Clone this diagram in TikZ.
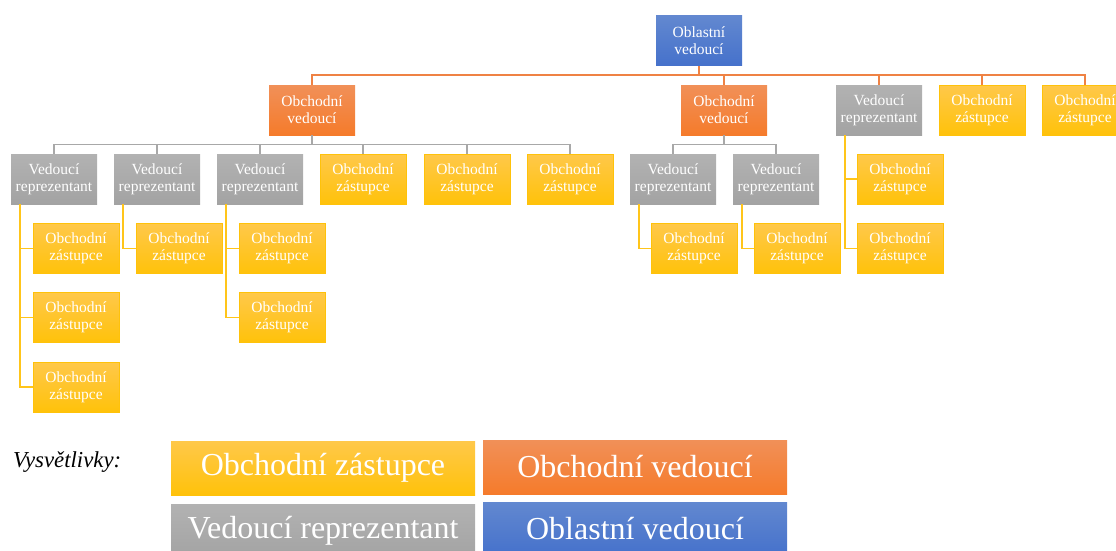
\documentclass[tikz,border=0pt]{standalone}
\usepackage{fontspec}
\setmainfont{Liberation Serif}
\definecolor{ozTop}{HTML}{FFC84A}
\definecolor{ozBot}{HTML}{FFC20A}
\definecolor{ovTop}{HTML}{F19058}
\definecolor{ovBot}{HTML}{F57B2B}
\definecolor{vrTop}{HTML}{B2B2B2}
\definecolor{vrBot}{HTML}{A3A3A3}
\definecolor{obTop}{HTML}{6288D0}
\definecolor{obBot}{HTML}{4571CB}
\definecolor{lineOrange}{HTML}{EF8244}
\definecolor{lineGray}{HTML}{A8A8A8}
\definecolor{lineYellow}{HTML}{FFC51A}
\tikzset{
  box/.style={minimum width=86pt, minimum height=50pt, inner sep=0pt,
    align=center, text=white, font=\fontsize{15.5}{16.7}\selectfont},
  ozbox/.style={box, top color=ozTop, bottom color=ozBot, draw=ozBot, line width=0.5pt},
  ovbox/.style={box, top color=ovTop, bottom color=ovBot},
  vrbox/.style={box, top color=vrTop, bottom color=vrBot},
  obbox/.style={box, top color=obTop, bottom color=obBot},
  legendbox/.style={minimum width=304pt, minimum height=54pt, inner sep=0pt,
    text=white, font=\fontsize{32}{36}\selectfont},
  orangeline/.style={draw=lineOrange, line width=1.5pt},
  grayline/.style={draw=lineGray, line width=1.5pt},
  yellowline/.style={draw=lineYellow, line width=1.5pt},
}
\begin{document}
\begin{tikzpicture}[x=1pt, y=-1pt]
\useasboundingbox (0,0) rectangle (1116,551);
\clip (0,0) rectangle (1116,551);

% top level
\node[obbox] (ob) at (699,41) {Oblastní\\vedoucí};

% second level
\node[ovbox] (ov1) at (312,110) {Obchodní\\vedoucí};
\node[ovbox] (ov2) at (724,110) {Obchodní\\vedoucí};
\node[vrbox] (vr6) at (879,110) {Vedoucí\\reprezentant};
\node[ozbox] (oza) at (982,110) {Obchodní\\zástupce};
\node[ozbox] (ozb) at (1085,110) {Obchodní\\zástupce};

% third level
\node[vrbox] (vr1) at (54,179) {Vedoucí\\reprezentant};
\node[vrbox] (vr2) at (157,179) {Vedoucí\\reprezentant};
\node[vrbox] (vr3) at (260,179) {Vedoucí\\reprezentant};
\node[ozbox] (ozc) at (363,179) {Obchodní\\zástupce};
\node[ozbox] (ozd) at (467,179) {Obchodní\\zástupce};
\node[ozbox] (oze) at (570,179) {Obchodní\\zástupce};
\node[vrbox] (vr4) at (673,179) {Vedoucí\\reprezentant};
\node[vrbox] (vr5) at (776,179) {Vedoucí\\reprezentant};
\node[ozbox] (ozf) at (900,179) {Obchodní\\zástupce};
\node[ozbox] (ozg) at (900,248.5) {Obchodní\\zástupce};

% fourth level
\node[ozbox] (oz11) at (76,248.5) {Obchodní\\zástupce};
\node[ozbox] (oz12) at (76,317.5) {Obchodní\\zástupce};
\node[ozbox] (oz13) at (76,387) {Obchodní\\zástupce};
\node[ozbox] (oz21) at (179,248.5) {Obchodní\\zástupce};
\node[ozbox] (oz31) at (282,248.5) {Obchodní\\zástupce};
\node[ozbox] (oz32) at (282,317.5) {Obchodní\\zástupce};
\node[ozbox] (oz41) at (694,248.5) {Obchodní\\zástupce};
\node[ozbox] (oz51) at (797,248.5) {Obchodní\\zástupce};

% connectors below the regional manager
\foreach \c in {ov1,ov2,vr6,oza,ozb}
  \draw[orangeline] (ob.south) -- ++(0,9) -| (\c.north);

% connectors below the sales managers
\foreach \c in {vr1,vr2,vr3,ozc,ozd,oze}
  \draw[grayline] (ov1.south) -- ++(0,9.5) -| (\c.north);
\foreach \c in {vr4,vr5}
  \draw[grayline] (ov2.south) -- ++(0,9.5) -| (\c.north);

% side connectors below the representative leaders
\foreach \p/\c in {vr1/oz11,vr1/oz12,vr1/oz13,vr2/oz21,vr3/oz31,vr3/oz32,
                   vr4/oz41,vr5/oz51,vr6/ozf,vr6/ozg}
  \draw[yellowline] ([xshift=9pt]\p.south west) |- (\c.west);

% legend
\node[anchor=base west, inner sep=0pt, font=\fontsize{22.8}{24}\selectfont\itshape] (leg) at (13,467) {Vysvětlivky:};
\node[legendbox, top color=ozTop, bottom color=ozBot] (lgoz) at (323,468) {Obchodní zástupce};
\node[legendbox, top color=ovTop, bottom color=ovBot] (lgov) at (635,467) {Obchodní vedoucí};
\node[legendbox, top color=vrTop, bottom color=vrBot] (lgvr) at (323,531) {Vedoucí reprezentant};
\node[legendbox, top color=obTop, bottom color=obBot] (lgob) at (635,529) {Oblastní vedoucí};
\end{tikzpicture}
\end{document}
